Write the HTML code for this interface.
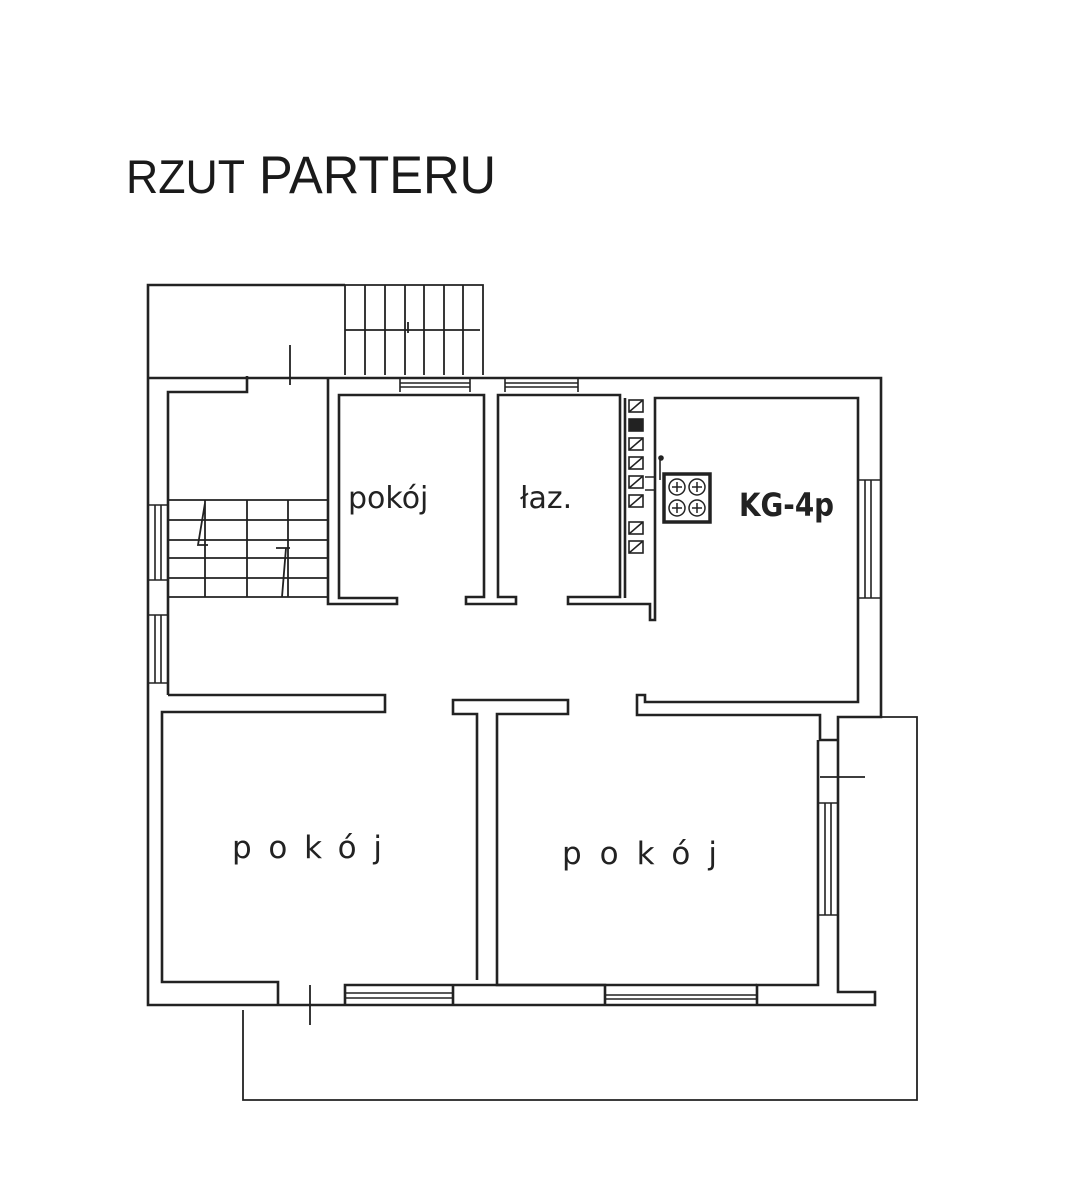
<!DOCTYPE html>
<html><head><meta charset="utf-8"><style>
html,body{margin:0;padding:0;background:#fff;}
svg{display:block}
</style></head><body>
<svg width="1066" height="1200" viewBox="0 0 1066 1200" xmlns="http://www.w3.org/2000/svg">
<rect width="1066" height="1200" fill="#fff"/>
<text x="126" y="193" font-family="Liberation Sans, sans-serif" font-size="47" fill="#1a1a1a" textLength="119" lengthAdjust="spacingAndGlyphs">RZUT</text>
<text x="259" y="193" font-family="Liberation Sans, sans-serif" font-size="53" fill="#1a1a1a" textLength="237" lengthAdjust="spacingAndGlyphs">PARTERU</text>

<g fill="none" stroke="#222" stroke-width="2.6" stroke-linejoin="miter">
<path d="M148,372 V285 H345"/>
<path stroke-width="1.8" d="M345,285 H483 V375 M345,285 V375 M365,285 V375 M385,285 V375 M405,285 V375 M424,285 V375 M444,285 V375 M463,285 V375 M345,330 H480 M408,322 V333"/>
<path d="M148,372 V1005 H875 V992 H838 V717 H881 V378 H148"/>
<path d="M168,695 V392 H247 V376"/>
<path d="M328,377 V604 H397 V598 H339 V395 H484 V597 H466 V604 H516 V597 H498 V395 H620 V597 H568 V604 H650 V620 H655 V398 H858 V702 H645 V695 H637 V715 H820 V740 H838"/>
<path d="M625,398 V598"/>
<path stroke-width="1.8" d="M168,500 H328 M168,520 H328 M168,540 H328 M168,558 H328 M168,578 H328 M168,597 H328 M205,500 V597 M247,500 V597 M288,500 V597 M205,503 L198,545 H208 M286,548 L282,597 M276,548 H290"/>
<path d="M168,695 H385 V712 H162 V982 H278 V1005"/>
<path d="M345,1005 V985 H453 V1005 M453,985 H605 V1005 M757,1005 V985 H818 V965 V775 M818,985 H757"/>
<path d="M477,980 V714 H453 V700 H568 V714 H497 V985 H605 M605,985 H757"/>
<path d="M818,775 V740"/>
<path stroke-width="1.8" d="M842,717 H917 V1100 H243 V1010"/>
<path stroke-width="1.8" d="M290,345 V385 M820,777 H865 M310,985 V1025"/>
<path stroke-width="1.6" d="M400,377 V392 M470,377 V392 M400,383 H470 M400,387 H470 M505,377 V392 M578,377 V392 M505,383 H578 M505,387 H578
M148,505 H168 M148,580 H168 M155,505 V580 M161,505 V580
M148,615 H168 M148,683 H168 M155,615 V683 M161,615 V683
M858,480 H881 M858,598 H881 M865,480 V598 M871,480 V598
M818,803 H838 M818,915 H838 M825,803 V915 M831,803 V915
M345,993 H453 M345,998 H453 M605,995 H757 M605,999 H757"/>
<g stroke-width="1.6">
<rect x="629" y="400" width="14" height="12"/><path d="M629,412 L643,400"/>
<rect x="629" y="419" width="14" height="12" fill="#222"/>
<rect x="629" y="438" width="14" height="12"/><path d="M629,450 L643,438"/>
<rect x="629" y="457" width="14" height="12"/><path d="M629,469 L643,457"/>
<rect x="629" y="476" width="14" height="12"/><path d="M629,488 L643,476"/>
<rect x="629" y="495" width="14" height="12"/><path d="M629,507 L643,495"/>
<rect x="629" y="522" width="14" height="12"/><path d="M629,534 L643,522"/>
<rect x="629" y="541" width="14" height="12"/><path d="M629,553 L643,541"/>
<path d="M645,477 H655 M645,490 H655 M660,458 V480"/>
<circle cx="661" cy="458" r="2" fill="#222"/>
</g>
<rect x="664" y="474" width="46" height="48" stroke-width="3.5"/>
<g stroke-width="1.5"><circle cx="677" cy="487" r="8"/><circle cx="697" cy="487" r="8"/><circle cx="677" cy="508" r="8"/><circle cx="697" cy="508" r="8"/>
<path d="M672,487 H682 M677,482 V492 M692,487 H702 M697,482 V492 M672,508 H682 M677,503 V513 M692,508 H702 M697,503 V513"/></g>
</g>

<g font-family="DejaVu Sans, Liberation Sans, sans-serif" fill="#222">
<text x="348" y="508" font-size="30">pokój</text>
<text x="520" y="508" font-size="30">łaz.</text>
<text x="739" y="516" font-size="32" font-weight="bold" textLength="95" lengthAdjust="spacingAndGlyphs">KG-4p</text>
<text x="232" y="858" font-size="31" textLength="150" lengthAdjust="spacing">pokój</text>
<text x="562" y="864" font-size="31" textLength="155" lengthAdjust="spacing">pokój</text>
</g>
</svg>
</body></html>
